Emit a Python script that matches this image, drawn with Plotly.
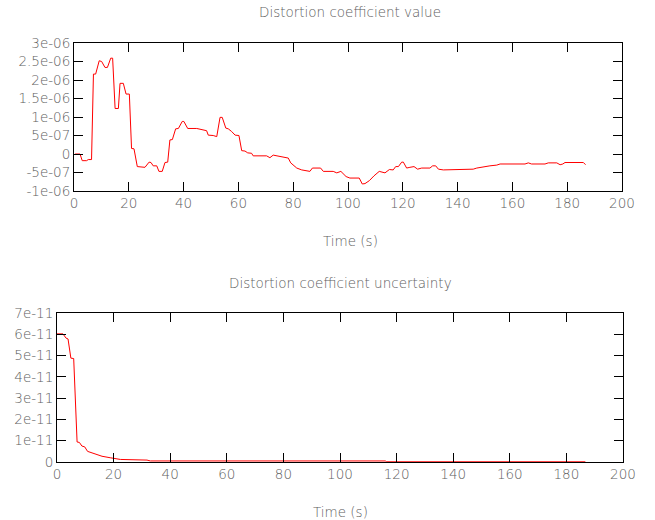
import plotly.graph_objects as go

# distortion coefficient value (x in s, y in units of 1e-6)
value_t = [0.4, 2.2, 3.0, 4.6, 5.2, 6.4, 7.1, 7.9, 9.2, 10.1, 11.3, 12.2, 13.4, 14.1,
           15.0, 16.2, 16.8, 18.0, 19.0, 20.2, 21.0, 21.9, 23.1, 24.7, 25.9, 27.4,
           28.1, 28.9, 30.2, 31.0, 32.2, 33.2, 34.2, 35.0, 35.9, 37.1, 38.1, 39.5,
           40.1, 41.5, 44.8, 48.4, 49.0, 50.8, 52.1, 53.3, 54.1, 55.4, 56.3, 57.5,
           58.8, 60.2, 61.2, 62.4, 63.4, 64.8, 65.4, 70.3, 71.5, 72.7, 74.0, 76.4,
           78.2, 79.1, 81.3, 83.1, 84.9, 86.1, 87.0, 90.0, 91.0, 94.6, 95.9, 97.4,
           99.3, 100.7, 104.1, 105.2, 106.2, 107.8, 109.5, 111.4, 113.5, 115.1,
           116.5, 117.4, 118.4, 119.6, 120.2, 121.4, 122.6, 124.1, 125.4, 126.9,
           129.9, 130.9, 132.0, 133.0, 134.8, 137.8, 139.0, 145.7, 147.0, 149.4,
           151.8, 154.3, 155.5, 164.6, 165.8, 167.0, 171.9, 173.1, 176.2, 177.4,
           178.4, 179.2, 185.9, 186.7]
value_y = [0.0, 0.0, -0.18, -0.18, -0.15, -0.15, 2.16, 2.16, 2.52, 2.50, 2.34, 2.34,
           2.59, 2.59, 1.23, 1.23, 1.91, 1.91, 1.62, 1.62, 0.15, 0.14, -0.34, -0.35,
           -0.36, -0.22, -0.23, -0.32, -0.32, -0.47, -0.47, -0.23, -0.22, 0.38, 0.39,
           0.68, 0.69, 0.88, 0.88, 0.69, 0.69, 0.63, 0.51, 0.50, 0.47, 0.99, 0.99,
           0.70, 0.68, 0.61, 0.51, 0.50, 0.09, 0.08, 0.03, 0.02, -0.05, -0.05, -0.10,
           -0.03, -0.05, -0.07, -0.11, -0.24, -0.38, -0.43, -0.45, -0.47, -0.38,
           -0.38, -0.47, -0.47, -0.51, -0.47, -0.61, -0.65, -0.65, -0.81, -0.80,
           -0.72, -0.59, -0.47, -0.51, -0.42, -0.43, -0.34, -0.34, -0.22, -0.22,
           -0.38, -0.36, -0.34, -0.41, -0.38, -0.38, -0.32, -0.32, -0.41, -0.43,
           -0.43, -0.41, -0.41, -0.38, -0.34, -0.32, -0.30, -0.27, -0.27, -0.24,
           -0.27, -0.27, -0.24, -0.24, -0.29, -0.27, -0.23, -0.23, -0.29]

# distortion coefficient uncertainty (y in units of 1e-11)
unc_t = [0.0, 2.1, 3.2, 3.9, 4.9, 5.9, 7.1, 7.9, 8.8, 9.8, 10.8, 12.4, 14.1, 15.9,
         18.8, 22.4, 31.8, 33.0, 116.0, 116.5, 186.7]
unc_y = [6.02, 6.02, 5.82, 5.78, 4.88, 4.86, 0.94, 0.92, 0.75, 0.71, 0.50, 0.42,
         0.33, 0.27, 0.20, 0.12, 0.09, 0.05, 0.05, 0.01, 0.01]

x_ticks = [0, 20, 40, 60, 80, 100, 120, 140, 160, 180, 200]
value_ticks = [-1e-6, -5e-7, 0, 5e-7, 1e-6, 1.5e-6, 2e-6, 2.5e-6, 3e-6]
value_tick_text = ["-1e-06", "-5e-07", "0", "5e-07", "1e-06", "1.5e-06", "2e-06",
                   "2.5e-06", "3e-06"]
unc_ticks = [0, 1e-11, 2e-11, 3e-11, 4e-11, 5e-11, 6e-11, 7e-11]
unc_tick_text = ["0", "1e-11", "2e-11", "3e-11", "4e-11", "5e-11", "6e-11", "7e-11"]

W, H = 655, 520
grey = "#606060"
font = dict(family="DejaVu Sans", size=13.5, color=grey, weight=200)

fig = go.Figure()
fig.add_trace(go.Scatter(x=value_t, y=[v * 1e-6 for v in value_y], mode="lines",
                         line=dict(color="#ff0000", width=1), xaxis="x", yaxis="y"))
fig.add_trace(go.Scatter(x=unc_t, y=[v * 1e-11 for v in unc_y], mode="lines",
                         line=dict(color="#ff0000", width=1), xaxis="x2", yaxis="y2"))

axis_style = dict(showline=True, linecolor="black", linewidth=1, mirror="ticks",
                  ticks="inside", ticklen=9, tickwidth=1, tickcolor="black",
                  showgrid=False, zeroline=False, tickfont=font, automargin=False)

fig.update_layout(
    width=W, height=H,
    margin=dict(l=0, r=0, t=0, b=0),
    plot_bgcolor="white", paper_bgcolor="white",
    showlegend=False,
    font=font,
    xaxis=dict(domain=[74 / W, 622 / W], range=[0, 200], anchor="y",
               tickvals=x_ticks, **axis_style),
    yaxis=dict(domain=[1 - 191 / H, 1 - 43 / H], range=[-1e-6, 3e-6], anchor="x",
               tickvals=value_ticks, ticktext=value_tick_text, **axis_style),
    xaxis2=dict(domain=[57 / W, 623 / W], range=[0, 200], anchor="y2",
                tickvals=x_ticks, **axis_style),
    yaxis2=dict(domain=[1 - 462 / H, 1 - 313 / H], range=[0, 7e-11], anchor="x2",
                tickvals=unc_ticks, ticktext=unc_tick_text, **axis_style),
)

labels = [
    ("Distortion coefficient value", 350 / W, 1 - 12 / H),
    ("Time (s)", 350 / W, 1 - 241 / H),
    ("Distortion coefficient uncertainty", 340 / W, 1 - 283 / H),
    ("Time (s)", 340 / W, 1 - 512 / H),
]
for text, x, y in labels:
    fig.add_annotation(text=text, x=x, y=y, xref="paper", yref="paper",
                       showarrow=False, xanchor="center", yanchor="middle", font=font)

# page has a default body margin; drop it so the figure sits at 0,0
fig.write_html("out.html", config={"displayModeBar": False},
               post_script="document.body.style.margin='0';")
